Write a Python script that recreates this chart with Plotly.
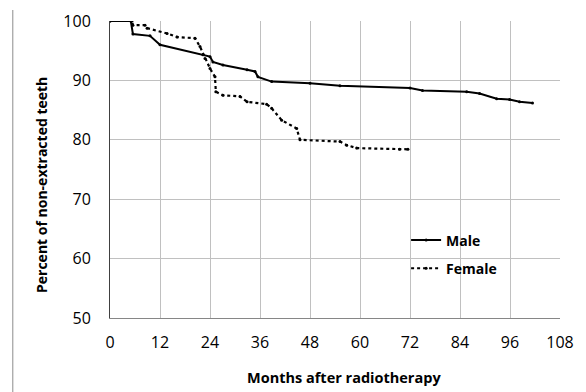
import plotly.graph_objects as go

male_months = [0, 5, 5.5, 9.6, 12, 22.3, 24, 24.7, 27.1, 32.9, 34.8, 35.5, 38.8, 48, 55.2, 72, 75, 85.6, 88.7, 92.8, 95.9, 98.3, 101.4]
male_pct = [100, 100, 97.8, 97.5, 96, 94.3, 94, 93.1, 92.6, 91.8, 91.5, 90.6, 89.8, 89.5, 89.1, 88.7, 88.3, 88.1, 87.8, 86.9, 86.8, 86.4, 86.2]

female_months = [0, 5.3, 5.5, 8.4, 8.9, 13.7, 16.1, 20.4, 21.6, 22.8, 24, 25.2, 25.4, 27.1, 31.2, 32.9, 37.6, 38.8, 41.2, 44.8, 45.6, 55.2, 56.8, 59.2, 69.5, 71.5]
female_pct = [100, 100, 99.3, 99.3, 98.8, 97.9, 97.3, 97.1, 95.7, 93.7, 92, 90.6, 88.1, 87.5, 87.3, 86.4, 86, 85.3, 83.3, 81.9, 80, 79.7, 79.1, 78.6, 78.4, 78.4]

x_ticks = [0, 12, 24, 36, 48, 60, 72, 84, 96, 108]
y_ticks = [50, 60, 70, 80, 90, 100]

FONT = "Open Sans"

fig = go.Figure()
fig.add_trace(go.Scatter(
    x=male_months, y=male_pct, name="Male", mode="lines+markers",
    line=dict(color="black", width=2), marker=dict(size=3, color="black"),
    legendgroup="m"))
fig.add_trace(go.Scatter(
    x=female_months, y=female_pct, name="Female", mode="lines+markers",
    line=dict(color="black", width=2.2, dash="dot"), marker=dict(size=3, color="black"),
    legendgroup="f"))

fig.update_layout(
    width=586, height=392,
    margin=dict(l=102, r=34, t=13, b=82, autoexpand=False),
    paper_bgcolor="white", plot_bgcolor="white",
    font=dict(family=FONT, size=15, color="black"),
    legend=dict(x=0.658, y=0.315, xanchor="left", yanchor="top",
                bgcolor="rgba(0,0,0,0)", font=dict(family=FONT, size=14, color="black", weight="bold"),
                traceorder="grouped", tracegroupgap=7),
    showlegend=True,
    annotations=[
        dict(text="Percent of non-extracted teeth", textangle=-90,
             xref="paper", yref="paper", x=-0.151, y=0.448,
             xanchor="center", yanchor="middle", showarrow=False,
             font=dict(family=FONT, size=14, color="black", weight="bold")),
        dict(text="Months after radiotherapy",
             xref="paper", yref="paper", x=0.52, y=-0.202,
             xanchor="center", yanchor="middle", showarrow=False,
             font=dict(family=FONT, size=14.5, color="black", weight="bold")),
    ],
)
fig.update_xaxes(
    range=[0, 108], tickvals=x_ticks, ticktext=[str(v) for v in x_ticks],
    tickfont=dict(family=FONT, size=16), automargin=False,
    showgrid=True, gridcolor="#c0c0c0", gridwidth=1,
    showline=True, linecolor="#868686", linewidth=1, zeroline=False,
    ticks="", ticklabelstandoff=10,
)
fig.update_yaxes(
    range=[50, 100], tickvals=y_ticks, ticktext=[str(v) for v in y_ticks],
    tickfont=dict(family=FONT, size=16), automargin=False,
    showgrid=True, gridcolor="#c0c0c0", gridwidth=1,
    showline=True, linecolor="#404040", linewidth=1, zeroline=False,
    ticks="", ticklabelstandoff=15,
)
fig.add_shape(type="line", xref="paper", yref="paper",
              x0=-0.216, x1=-0.216, y0=1.037, y1=-0.26,
              line=dict(color="#8c8c8c", width=1))

fig.write_html("out.html")
